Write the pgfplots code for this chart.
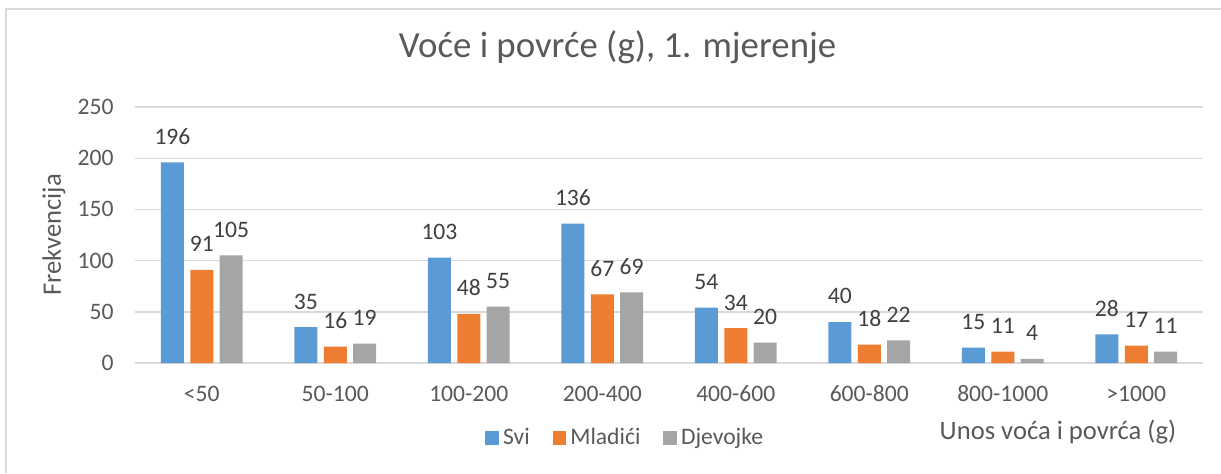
\documentclass[border=0pt]{standalone}
\usepackage{pgfplots}
\pgfplotsset{compat=1.18}
\usepackage{fontspec}
\setmainfont{Carlito}
\definecolor{cSvi}{HTML}{5B9BD5}
\definecolor{cMl}{HTML}{ED7D31}
\definecolor{cDj}{HTML}{A5A5A5}
\definecolor{gridc}{HTML}{D9D9D9}
\definecolor{txt}{HTML}{595959}
\definecolor{lbl}{HTML}{404040}
\begin{document}
\begin{tikzpicture}[x=1pt,y=1pt]
\useasboundingbox (0,0) rectangle (610.5,-236.5);
\draw[gridc, line width=1pt] (3,-236.5) -- (3,-4.6) -- (610.5,-4.6);
\begin{axis}[
  at={(67.5pt,-181.5pt)}, anchor=south west,
  scale only axis, width=534pt, height=128pt,
  xmin=-0.5, xmax=7.5, ymin=0, ymax=250,
  ytick={0,50,100,150,200,250},
  xtick={0,1,2,3,4,5,6,7},
  xticklabels={{<50},{50-100},{100-200},{200-400},{400-600},{600-800},{800-1000},{>1000}},
  /pgf/number format/assume math mode=true,
  ymajorgrids, grid style={gridc, line width=0.7pt},
  axis line style={draw=none},
  major tick length=0pt, tick style={draw=none},
  ticklabel style={font=\fontsize{11.8}{13}\selectfont, text=txt},
  yticklabel style={anchor=east, inner sep=0pt, xshift=-10.5pt},
  xticklabel style={anchor=base, inner sep=0pt, yshift=-19.3pt},
  legend columns=-1,
  legend style={draw=none, fill=none, at={(0.46,-0.293)}, anchor=center,
    font=\fontsize{11.8}{13}\selectfont, text=txt,
    /tikz/every even column/.append style={column sep=9.5pt}},
  legend image code/.code={\fill[#1] (0pt,-3.4pt) rectangle (6.8pt,3.4pt);},
  every node near coord/.append style={anchor=south, inner sep=0pt, yshift=8.8pt,
    font=\fontsize{11.8}{13}\selectfont, text=lbl},
]
\addplot[ybar, bar width=11.5pt, bar shift=-14.65pt, fill=cSvi, draw=none, nodes near coords,
  every node near coord/.append style={xshift=-14.65pt}]
  coordinates {(0,196) (1,35) (2,103) (3,136) (4,54) (5,40) (6,15) (7,28)};
\addlegendentry{Svi}
\addplot[ybar, bar width=11.5pt, bar shift=0pt, fill=cMl, draw=none, nodes near coords]
  coordinates {(0,91) (1,16) (2,48) (3,67) (4,34) (5,18) (6,11) (7,17)};
\addlegendentry{Mladići}
\addplot[ybar, bar width=11.5pt, bar shift=14.65pt, fill=cDj, draw=none, nodes near coords,
  every node near coord/.append style={xshift=14.65pt}]
  coordinates {(0,105) (1,19) (2,55) (3,69) (4,20) (5,22) (6,4) (7,11)};
\addlegendentry{Djevojke}
\end{axis}
\node[anchor=base, text=txt, font=\fontsize{18.4}{21}\selectfont] at (308.75,-28.65) {Voće i povrće (g), 1. mjerenje};
\node[anchor=base, text=txt, font=\fontsize{13.3}{15}\selectfont] at (529,-219.65) {Unos voća i povrća (g)};
\node[rotate=90, anchor=center, text=txt, font=\fontsize{13.3}{15}\selectfont] at (27,-117.5) {Frekvencija};
\end{tikzpicture}
\end{document}
